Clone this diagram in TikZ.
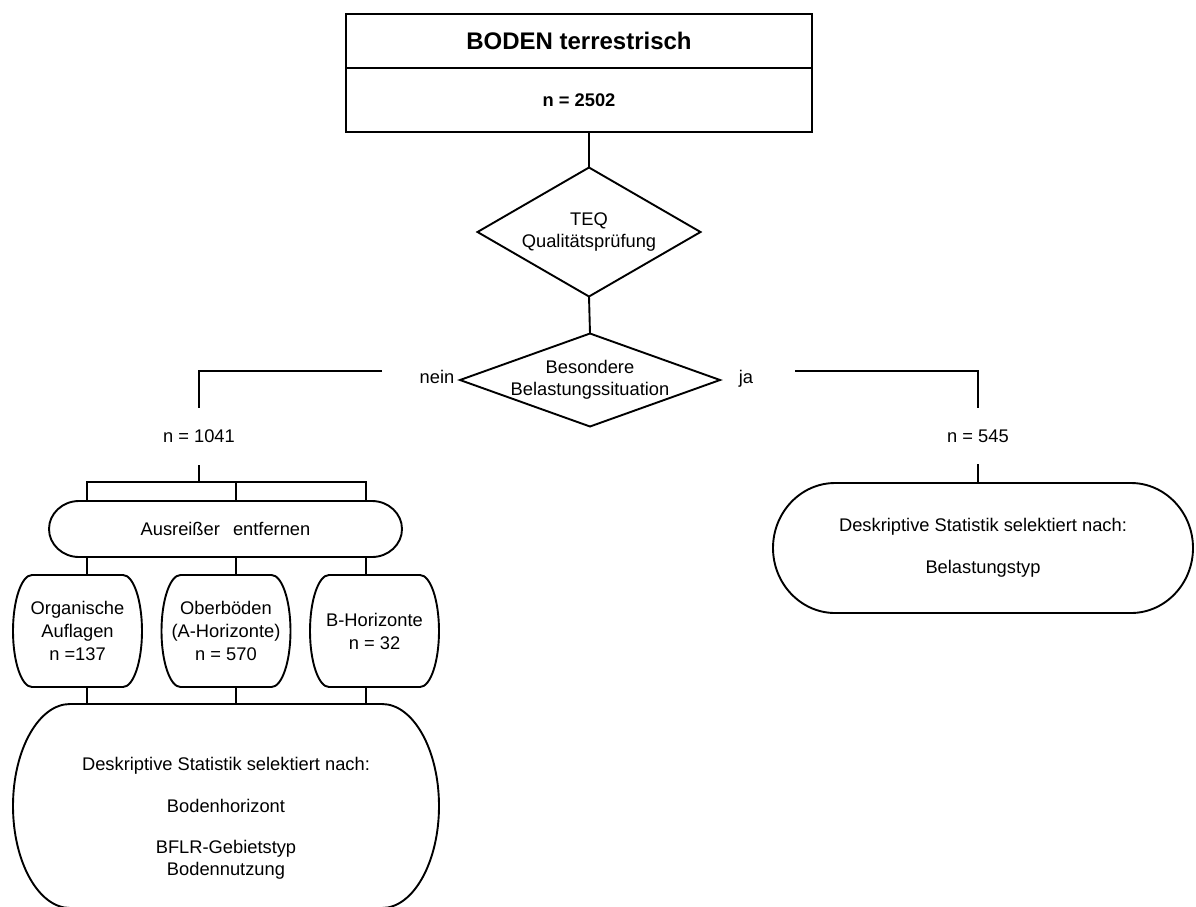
\documentclass[tikz,border=0pt]{standalone}
\usepackage{fontspec}
\setmainfont{Liberation Sans}
\usepackage{tikz}
\usetikzlibrary{calc}
\usetikzlibrary{positioning}

\newcommand{\umriss}[3]{%
	\draw ($(#1.north west)+(#2,0)$) -- ($(#1.north east)+(-#2,0)$)
		.. controls ($(#1.north east)+({-(1-#3)*#2},0)$) and ($(#1.east)!#3!(#1.north east)$) .. (#1.east)
		.. controls ($(#1.east)!#3!(#1.south east)$) and ($(#1.south east)+({-(1-#3)*#2},0)$) .. ($(#1.south east)+(-#2,0)$)
		-- ($(#1.south west)+(#2,0)$)
		.. controls ($(#1.south west)+({(1-#3)*#2},0)$) and ($(#1.west)!#3!(#1.south west)$) .. (#1.west)
		.. controls ($(#1.west)!#3!(#1.north west)$) and ($(#1.north west)+({(1-#3)*#2},0)$) .. cycle;
}

\tikzset{
	every node/.style = {font=\fontsize{18.3pt}{22pt}\selectfont},
	feld/.style = {inner sep=0pt, outer sep=0pt, align=center},
	kasten/.style = {feld, draw, minimum width=466pt},
	marke/.style = {inner sep=0pt, outer sep=0pt, text height=24pt, text depth=0pt},
	stufe/.style = {feld, minimum width=129pt, minimum height=112pt, font=\fontsize{18.3pt}{23pt}\selectfont}
}

\begin{document}
\begin{tikzpicture}[x=1pt, y=-1pt, line width=1.9pt]
	\useasboundingbox (0,0) rectangle (1196,906);
	\clip (0,0) rectangle (1196,906);

	\node[kasten, minimum height=54pt, font=\bfseries\fontsize{24pt}{28pt}\selectfont] (titel) at (579,41) {BODEN terrestrisch};
	\node[kasten, minimum height=64pt, font=\bfseries\fontsize{18.3pt}{22pt}\selectfont, below=0pt of titel] (gesamt) {n = 2502};

	\node[feld, minimum width=223pt, minimum height=129pt] (teq) at (589,232) {TEQ\\Qualitätsprüfung};
	\draw (teq.north) -- (teq.east) -- (teq.south) -- (teq.west) -- cycle;
	\node[feld, minimum width=260pt, minimum height=93pt] (bes) at (590,380) {Besondere\\Belastungssituation};
	\draw (bes.north) -- (bes.east) -- (bes.south) -- (bes.west) -- cycle;
	\draw (teq.north |- gesamt.south) -- (teq.north);
	\draw (teq.south) -- (bes.north);

	\node[marke, minimum width=110pt] (nein) at (437,371) {nein};
	\node[marke, minimum width=98pt] (ja) at (746,371) {ja};
	\node[feld, minimum height=57pt] (nlinks) at (199,436.5) {n = 1041};
	\node[feld, minimum height=56pt] (nrechts) at (978,436) {n = 545};
	\draw (nein.west) -| (nlinks.north);
	\draw (ja.east) -| (nrechts.north);

	\node[feld, minimum width=353pt, minimum height=56pt] (aus) at (225.5,529) {Ausreißer\hspace{8pt} entfernen};
	\umriss{aus}{30}{0.55}
	\node[stufe] (org) at (77.5,631) {Organische\\Auflagen\\n =137};
	\node[stufe] (ober) at (226,631) {Oberböden\\(A-Horizonte)\\n = 570};
	\node[stufe] (bhor) at (374.5,631) {B-Horizonte\\n = 32};
	\foreach \k in {org, ober, bhor}
		\umriss{\k}{19}{0.55};
	\node[feld, minimum width=426pt, minimum height=204pt] (statlinks) at (226,806) {};
	\umriss{statlinks}{57}{0.55}
	\node[feld] (statlinkstext) at (226,818) {Deskriptive Statistik selektiert nach:\\[20pt]Bodenhorizont\\[19pt]BFLR-Gebietstyp\\Bodennutzung};

	\coordinate (s1) at (87,482);
	\coordinate (s2) at (236,482);
	\coordinate (s3) at (366,482);
	\draw (nlinks.south) -- (nlinks.south |- s1);
	\draw (s1 |- aus.north) -- (s1) -- (s3) -- (s3 |- aus.north);
	\draw (s2) -- (s2 |- aus.north);
	\foreach \s/\k in {s1/org, s2/ober, s3/bhor}{
		\draw (\s |- aus.south) -- (\s |- \k.north);
		\draw (\s |- \k.south) -- (\s |- statlinks.north);
	}

	\node[feld, minimum width=420pt, minimum height=130pt] (statrechts) at (983,548) {Deskriptive Statistik selektiert nach:\\[20pt]Belastungstyp};
	\umriss{statrechts}{62}{0.55}
	\draw (nrechts.south) -- (nrechts.south |- statrechts.north);
\end{tikzpicture}
\end{document}
